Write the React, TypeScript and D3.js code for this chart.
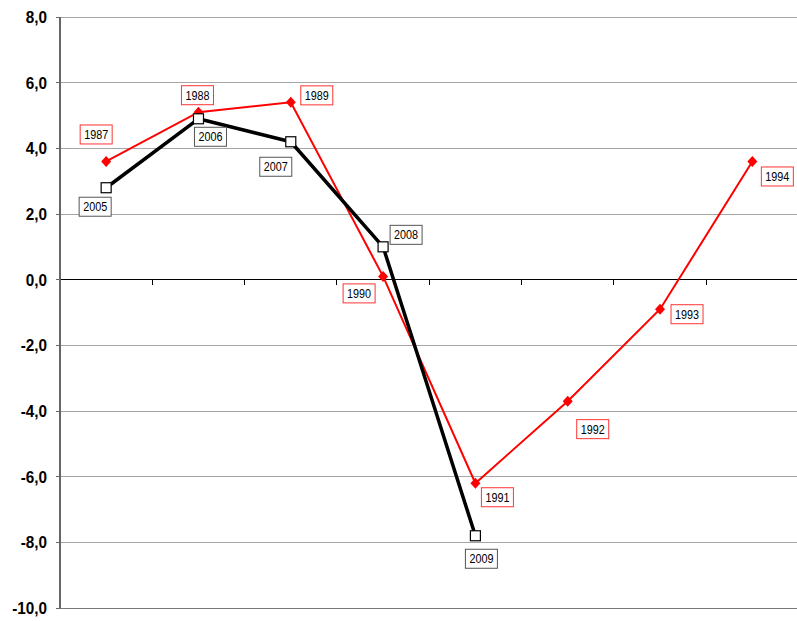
import React from "react";
import * as d3 from "d3";

const categories = [0, 1, 2, 3, 4, 5, 6, 7];
const redYears = ["1987", "1988", "1989", "1990", "1991", "1992", "1993", "1994"];
const redValues = [3.6, 5.1, 5.4, 0.1, -6.2, -3.7, -0.9, 3.6];
const blackYears = ["2005", "2006", "2007", "2008", "2009"];
const blackValues = [2.8, 4.9, 4.2, 1.0, -7.8];
const yTicks = [8, 6, 4, 2, 0, -2, -4, -6, -8, -10];

// label offsets (layout only)
const redLabelOffsets: [number, number][] = [
  [-10, -27], [-1, -17], [26, -7], [-24, 17], [22, 14], [25, 28], [27, 5], [25, 15],
];
const blackLabelOffsets: [number, number][] = [
  [-11, 19], [12, 18], [-15, 25], [23, -12], [6, 23],
];

const W = 797;
const H = 621;
const left = 60;
const right = 798.5;
const top = 17;
const bottom = 608;

export default function App() {
  const x = d3.scaleBand<number>().domain(categories).range([left, right]).padding(0);
  const cx = (i: number) => (x(i) as number) + x.bandwidth() / 2;
  const y = d3.scaleLinear().domain([-10, 8]).range([bottom, top]);
  const line = d3
    .line<number>()
    .x((_, i) => cx(i))
    .y((d) => y(d));
  const fmt = (v: number) => v.toFixed(1).replace(".", ",");
  const boxW = 32;
  const boxH = 19;
  const font = "'Liberation Sans', Arial, sans-serif";

  return (
    <svg
      width={W}
      height={H}
      style={{ position: "absolute", left: 0, top: 0, background: "#fff" }}
    >
      {/* grid */}
      {yTicks.map((t) => (
        <line
          key={"g" + t}
          x1={left}
          x2={W}
          y1={y(t)}
          y2={y(t)}
          stroke={t === 0 ? "#000" : t === -10 ? "#777" : "#a6a6a6"}
          strokeWidth={t === 0 ? 1.2 : 1}
          shapeRendering="crispEdges"
        />
      ))}
      {/* zero-line ticks */}
      {categories.map((c) =>
        c === 0 ? null : (
          <line
            key={"xt" + c}
            x1={x(c) as number}
            x2={x(c) as number}
            y1={y(0)}
            y2={y(0) + 5}
            stroke="#000"
            strokeWidth={1}
            shapeRendering="crispEdges"
          />
        )
      )}
      {/* y axis */}
      <line x1={left} x2={left} y1={top} y2={bottom} stroke="#666" strokeWidth={2} shapeRendering="crispEdges" />
      {yTicks.map((t) => (
        <g key={"yt" + t}>
          <line x1={left - 4} x2={left} y1={y(t)} y2={y(t)} stroke="#666" strokeWidth={1} shapeRendering="crispEdges" />
          <text
            transform={`translate(47,${y(t)}) scale(0.9,1)`}
            dy="0.36em"
            textAnchor="end"
            fontFamily={font}
            fontWeight="bold"
            fontSize={17}
            fill="#000"
          >
            {fmt(t)}
          </text>
        </g>
      ))}

      {/* red series */}
      <path d={line(redValues) || ""} fill="none" stroke="#ff0000" strokeWidth={2} />
      {redValues.map((v, i) => (
        <path
          key={"rm" + i}
          d={`M${cx(i)},${y(v) - 5.5}L${cx(i) + 5},${y(v)}L${cx(i)},${y(v) + 5.5}L${cx(i) - 5},${y(v)}Z`}
          fill="#ff0000"
        />
      ))}

      {/* black series */}
      <path d={line(blackValues) || ""} fill="none" stroke="#000" strokeWidth={3.5} strokeLinejoin="round" />
      {blackValues.map((v, i) => (
        <rect
          key={"bm" + i}
          x={cx(i) - 5}
          y={y(v) - 5}
          width={10}
          height={10}
          fill="#fff"
          stroke="#000"
          strokeWidth={1.2}
        />
      ))}

      {/* red labels */}
      {redValues.map((v, i) => {
        const lx = cx(i) + redLabelOffsets[i][0];
        const ly = y(v) + redLabelOffsets[i][1];
        return (
          <g key={"rl" + i}>
            <rect x={lx - boxW / 2} y={ly - boxH / 2} width={boxW} height={boxH} fill="#fff" stroke="#ff3333" strokeWidth={1} />
            <text x={lx} y={ly} dy="0.36em" textAnchor="middle" fontFamily={font} fontSize={12.5} fill="#000" textLength={24} lengthAdjust="spacingAndGlyphs">
              {redYears[i]}
            </text>
          </g>
        );
      })}
      {/* black labels */}
      {blackValues.map((v, i) => {
        const lx = cx(i) + blackLabelOffsets[i][0];
        const ly = y(v) + blackLabelOffsets[i][1];
        return (
          <g key={"bl" + i}>
            <rect x={lx - boxW / 2} y={ly - boxH / 2} width={boxW} height={boxH} fill="#fff" stroke="#555" strokeWidth={1} />
            <text x={lx} y={ly} dy="0.36em" textAnchor="middle" fontFamily={font} fontSize={12.5} fill="#000" textLength={24} lengthAdjust="spacingAndGlyphs">
              {blackYears[i]}
            </text>
          </g>
        );
      })}
    </svg>
  );
}
